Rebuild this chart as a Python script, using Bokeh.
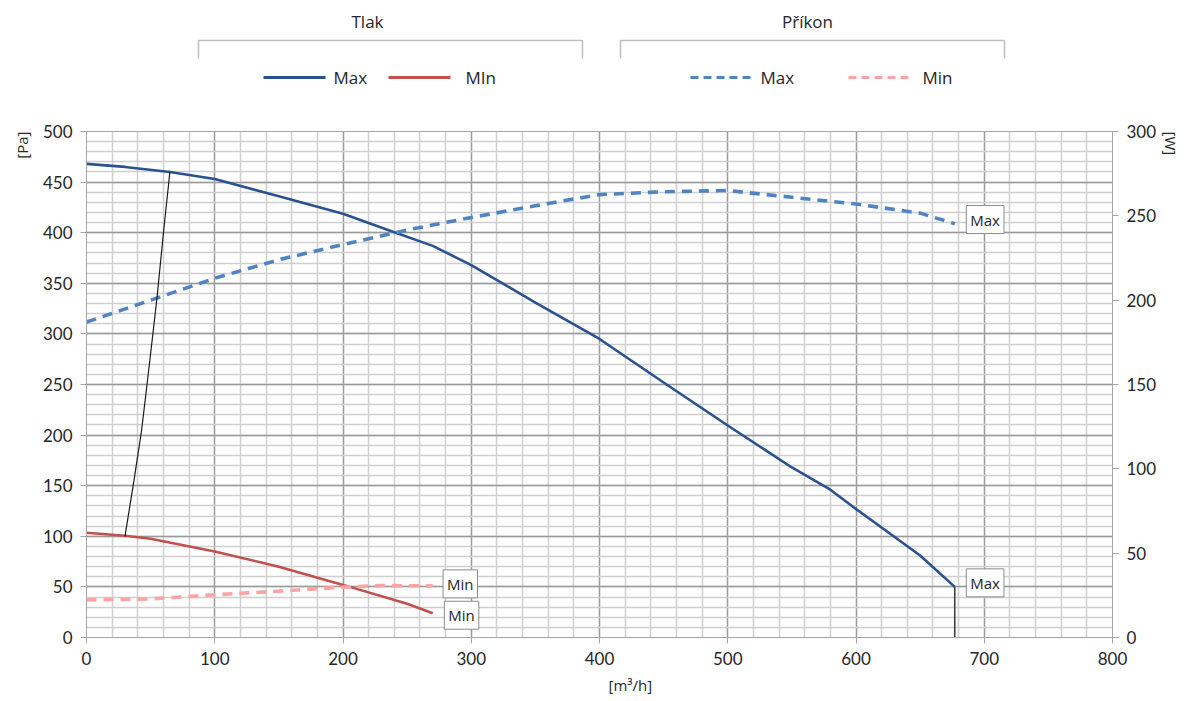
from bokeh.plotting import figure
from bokeh.models import Range1d, LinearAxis, SingleIntervalTicker, Label, Title
from bokeh.layouts import column
from bokeh.embed import file_html
from bokeh.resources import INLINE
from bokeh.core.properties import value

# ---------------- data ----------------
tlak_max_x = [0, 30, 65, 100, 150, 200, 240, 270, 300, 350, 400, 450, 500, 550, 580, 600, 650, 677]
tlak_max_y = [468, 465, 460, 453, 436, 418.7, 400.5, 387, 368, 331, 295, 252, 209.5, 168, 146, 127, 81, 50]

tlak_min_x = [0, 30, 50, 100, 150, 200, 250, 270]
tlak_min_y = [103.5, 100.5, 97.5, 85, 70, 52, 33.3, 24]

prikon_max_x = [0, 50, 100, 150, 200, 250, 300, 350, 400, 450, 500, 550, 600, 650, 677]
prikon_max_w = [187, 200, 213, 224, 233, 241.6, 249, 256, 262.6, 264.3, 265, 261, 257, 251.6, 245.3]

prikon_min_x = [0, 50, 100, 150, 200, 230, 270]
prikon_min_w = [22.3, 22.9, 25.3, 27.5, 29.8, 30.8, 30.6]

system_x = [30, 37, 43, 49.4, 55, 60, 65]
system_y = [100, 155, 205, 274, 336, 400, 460]

end_x = [677, 677]
end_y = [0, 50]

x_ticks = [0, 100, 200, 300, 400, 500, 600, 700, 800]
y_ticks = [0, 50, 100, 150, 200, 250, 300, 350, 400, 450, 500]
w_ticks = [0, 50, 100, 150, 200, 250, 300]

group_titles = ["Tlak", "Příkon"]
legend_labels = ["Max", "MIn", "Max", "Min"]

# ---------------- styles ----------------
C_TMAX = "#2A5290"
C_TMIN = "#C4504D"
C_PMAX = "#4F84C4"
C_PMIN = "#FFA3A3"
TXT = "#262626"
FONT = "Open Sans"
TICKFONT = "Lato"

W_TOTAL = 1190
LEG_H = 115

# ---------------- legend strip (x aligned with main frame; coords = page pixels) ----------------
leg = figure(width=W_TOTAL, height=LEG_H, x_range=Range1d(86, 1112), y_range=Range1d(LEG_H, 0),
             output_backend="svg", toolbar_location=None, min_border=0)
leg.axis.visible = False
leg.grid.visible = False
leg.outline_line_color = None

leg.text(x=[367, 807], y=[21, 21], text=group_titles, text_font=value(FONT),
         text_font_size="17px", text_align="center", text_baseline="middle", text_color=TXT)
for x0, x1 in [(198, 582), (620, 1004)]:
    leg.line([x0, x0, x1, x1], [58, 40, 40, 58], line_color="#BFBFBF", line_width=1.5)

leg.line([263, 325], [77, 77], line_color=C_TMAX, line_width=3)
leg.line([388, 450], [77, 77], line_color=C_TMIN, line_width=3)
leg.line([690, 752], [77, 77], line_color=C_PMAX, line_width=3, line_dash="8 5")
leg.line([848, 910], [77, 77], line_color=C_PMIN, line_width=3, line_dash="8 5")
leg.text(x=[333, 465, 760, 922], y=[77, 77, 77, 77], text=legend_labels, text_font=value(FONT),
         text_font_size="17px", text_align="left", text_baseline="middle", text_color=TXT)

# ---------------- main chart ----------------
p = figure(width=W_TOTAL, height=701 - LEG_H, x_range=Range1d(0, 800), y_range=Range1d(0, 500),
           output_backend="svg", toolbar_location=None,
           min_border_left=86, min_border_right=78, min_border_top=131 - LEG_H, min_border_bottom=64)
p.extra_y_ranges = {"w": Range1d(0, 300)}
p.outline_line_color = "#A6A6A6"
p.background_fill_color = "white"

p.xaxis.ticker = x_ticks
p.yaxis.ticker = y_ticks
p.xgrid.ticker = SingleIntervalTicker(interval=100, num_minor_ticks=5)
p.ygrid.ticker = SingleIntervalTicker(interval=50, num_minor_ticks=5)
for g in (p.xgrid, p.ygrid):
    g.grid_line_color = "#9A9A9A"
    g.grid_line_width = 1.3
    g.minor_grid_line_color = "#CFCFCF"
    g.minor_grid_line_width = 1.5

w_axis = LinearAxis(y_range_name="w", ticker=w_ticks)
p.add_layout(w_axis, "right")

for ax in (p.xaxis[0], p.yaxis[0], w_axis):
    ax.axis_line_color = "#A6A6A6"
    ax.major_tick_line_color = "#A6A6A6"
    ax.major_tick_out = 6
    ax.major_tick_in = 0
    ax.minor_tick_out = 0
    ax.minor_tick_in = 0
    ax.major_label_text_font = TICKFONT
    ax.major_label_text_font_size = "17px"
    ax.major_label_text_color = TXT
    ax.major_label_standoff = 8

# axis unit labels as side titles
p.add_layout(Title(text="[Pa]", align="right", text_font=FONT, text_font_size="15px",
                   text_font_style="normal", text_color=TXT, standoff=16), "left")
p.add_layout(Title(text="[W]", align="left", text_font=FONT, text_font_size="15px",
                   text_font_style="normal", text_color=TXT, standoff=2), "right")
p.add_layout(Title(text="[m³/h]", align="left", offset=522, text_font=FONT, text_font_size="15px",
                   text_font_style="normal", text_color=TXT, standoff=10), "below")

# curves
p.line(tlak_max_x, tlak_max_y, line_color=C_TMAX, line_width=2.6)
p.line(tlak_min_x, tlak_min_y, line_color=C_TMIN, line_width=2.6)
p.line(prikon_max_x, prikon_max_w, y_range_name="w", line_color=C_PMAX, line_width=3.6, line_dash="10 7")
p.line(prikon_min_x, prikon_min_w, y_range_name="w", line_color=C_PMIN, line_width=3.6, line_dash="10 7")
p.line(system_x, system_y, line_color="#1A1A1A", line_width=1.2)
p.line(end_x, end_y, line_color="#404040", line_width=1.6)

# end labels
def box(x, y, t):
    p.add_layout(Label(x=x, y=y, text=t, text_font=FONT, text_font_size="15px",
                       text_color=TXT, text_baseline="middle", text_align="left",
                       background_fill_color="white", border_line_color="#8C8C8C",
                       border_line_width=1, padding=4))

box(686, 413, "Max")
box(686, 54, "Max")
box(278, 53, "Min")
box(279, 22, "Min")

layout = column(leg, p, spacing=0)
open("out.html", "w").write(file_html(layout, INLINE))
